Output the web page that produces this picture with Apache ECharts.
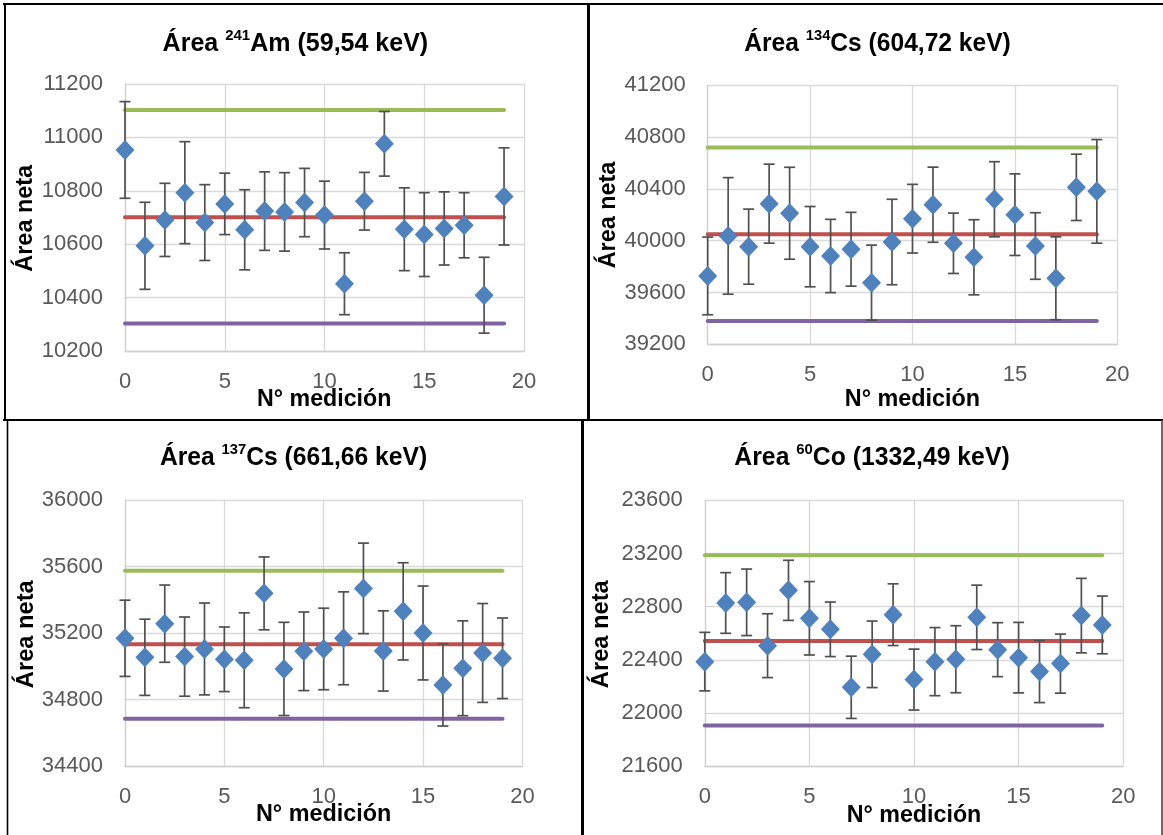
<!DOCTYPE html>
<html><head><meta charset="utf-8">
<script src="https://cdn.jsdelivr.net/npm/echarts@6/dist/echarts.min.js"></script>
<style>html,body{margin:0;padding:0;background:#fff}#c{width:1163px;height:835px}</style>
</head><body><div id="c"></div>
<script>
// ---- data ----
const medicion = [0,1,2,3,4,5,6,7,8,9,10,11,12,13,14,15,16,17,18,19];
const xTicks = [0,5,10,15,20];

const am241 = [10953,10594,10691,10793,10681,10751,10654,10724,10721,10756,10709,10452,10761,10976,10656,10636,10659,10671,10409,10779];
const am241Err = [181,163,137,191,142,115,150,147,147,128,127,116,108,121,155,157,137,122,142,182];
const am241Ref = [11103,10701,10303]; // upper, mean, lower
const am241Ticks = [10200,10400,10600,10800,11000,11200];

const cs134 = [39728,40037,39954,40286,40212,39954,39882,39934,39676,39990,40170,40278,39980,39872,40320,40201,39959,39710,40412,40381];
const cs134Err = [300,450,290,305,355,310,283,285,290,330,265,290,233,290,290,315,257,320,256,400];
const cs134Ref = [40719,40049,39380];
const cs134Ticks = [39200,39600,40000,40400,40800,41200];

const cs137 = [35169,35055,35257,35059,35105,35043,35037,35439,34985,35091,35105,35169,35469,35093,35331,35201,34889,34989,35081,35049];
const cs137Err = [229,229,232,238,276,194,285,219,280,236,245,279,272,241,292,282,247,285,297,242];
const cs137Ref = [35575,35133,34686];
const cs137Ticks = [34400,34800,35200,35600,36000];

const co60 = [22387,22828,22833,22507,22923,22713,22630,22194,22442,22740,22252,22387,22405,22720,22477,22417,22312,22372,22733,22663];
const co60Err = [220,228,250,240,226,276,205,234,250,232,229,256,252,242,203,265,233,222,280,217];
const co60Ref = [23187,22542,21906];
const co60Ticks = [21600,22000,22400,22800,23200,23600];

const titles = [
  ['Área ','241','Am (59,54 keV)'],
  ['Área ','134','Cs (604,72 keV)'],
  ['Área ','137','Cs (661,66 keV)'],
  ['Área ','60','Co (1332,49 keV)']
];
const yName = 'Área neta';
const xName = 'N° medición';

// ---- layout ----
const F = "'Liberation Sans',Arial,sans-serif";
const panels = [
  {vals:am241, errs:am241Err, refs:am241Ref, ticks:am241Ticks,
   grid:{left:125, top:84, width:399, height:267},
   tp:[295.4,43.7,265.6], yn:[26,218.3,106.7], xn:[324.2,399.5,134.3]},
  {vals:cs134, errs:cs134Err, refs:cs134Ref, ticks:cs134Ticks,
   grid:{left:707.7, top:85.3, width:409.6, height:259},
   tp:[877.5,43.7,266.6], yn:[609,215,106.7], xn:[912.5,399.5,135.3]},
  {vals:cs137, errs:cs137Err, refs:cs137Ref, ticks:cs137Ticks,
   grid:{left:125, top:500, width:397.4, height:266.3},
   tp:[293.5,457.8,267.2], yn:[26.3,634.2,108], xn:[323.6,814.7,135.4]},
  {vals:co60, errs:co60Err, refs:co60Ref, ticks:co60Ticks,
   grid:{left:704.8, top:500.3, width:418.4, height:266},
   tp:[872,457.8,275.3], yn:[601.6,634.2,108], xn:[914,815.8,134.6]}
];
const refColors = ['#9BBB59','#C0504D','#8064A2'];

const mctx = document.createElement('canvas').getContext('2d');
function tw(txt, size){ mctx.font = 'bold ' + size + 'px ' + F; return mctx.measureText(txt).width; }

function renderErr(params, api){
  const x = api.value(0), v = api.value(1), e = api.value(2);
  const hi = api.coord([x, v+e]), lo = api.coord([x, v-e]);
  const w = 5.5;
  const st = {stroke:'#505050', lineWidth:1.7};
  return {type:'group', children:[
    {type:'line', shape:{x1:hi[0],y1:hi[1],x2:lo[0],y2:lo[1]}, style:st},
    {type:'line', shape:{x1:hi[0]-w,y1:hi[1],x2:hi[0]+w,y2:hi[1]}, style:st},
    {type:'line', shape:{x1:lo[0]-w,y1:lo[1],x2:lo[0]+w,y2:lo[1]}, style:st}
  ]};
}

const TS = 25, SS = 15, NS = 23.5;
const grids=[], xAxes=[], yAxes=[], series=[], graphic=[];
panels.forEach((p,i)=>{
  grids.push(p.grid);
  const gridLine = {show:true, lineStyle:{color:'#D9D9D9', width:1.3}};
  const lab = {color:'#595959', fontFamily:F, fontSize:22, formatter:v=>String(v)};
  xAxes.push({type:'value', gridIndex:i, min:xTicks[0], max:xTicks[xTicks.length-1], interval:xTicks[1]-xTicks[0],
    axisLine:{show:true, onZero:false, lineStyle:{color:'#D0D0D0', width:1.3}}, axisTick:{show:false},
    splitLine:gridLine, axisLabel:Object.assign({margin:20}, lab)});
  yAxes.push({type:'value', gridIndex:i, min:p.ticks[0], max:p.ticks[p.ticks.length-1], interval:p.ticks[1]-p.ticks[0],
    axisLine:{show:true, lineStyle:{color:'#D0D0D0', width:1.3}}, axisTick:{show:false},
    splitLine:gridLine, axisLabel:Object.assign({margin:22}, lab)});
  p.refs.forEach((r,k)=>{
    series.push({type:'line', xAxisIndex:i, yAxisIndex:i, z:2, showSymbol:false, silent:true,
      data:[[medicion[0], r],[medicion[medicion.length-1], r]],
      lineStyle:{color:refColors[k], width:4, cap:'round'}});
  });
  series.push({type:'custom', xAxisIndex:i, yAxisIndex:i, z:3, renderItem:renderErr, clip:false,
    encode:{x:0,y:1}, data:medicion.map((m,j)=>[m, p.vals[j], p.errs[j]])});
  series.push({type:'scatter', xAxisIndex:i, yAxisIndex:i, z:4, symbol:'diamond', symbolSize:[19,20],
    itemStyle:{color:'#4F81BD', opacity:1}, data:medicion.map((m,j)=>[m, p.vals[j]])});
  const t = titles[i];
  const natW = tw(t[0],TS) + tw(t[1],SS) + tw(t[2],TS);
  graphic.push({type:'text', x:p.tp[0], y:p.tp[1], scaleX:p.tp[2]/natW, style:{
    text:'{a|'+t[0]+'}{s|'+t[1]+'}{a|'+t[2]+'}', align:'center', verticalAlign:'middle',
    rich:{a:{fontFamily:F, fontWeight:'bold', fontSize:TS, fill:'#000', lineHeight:30},
          s:{fontFamily:F, fontWeight:'bold', fontSize:SS, fill:'#000', lineHeight:23, verticalAlign:'top'}}}});
  graphic.push({type:'text', x:p.yn[0], y:p.yn[1], rotation:Math.PI/2, scaleX:p.yn[2]/tw(yName,NS), style:{
    text:yName, align:'center', verticalAlign:'middle', fontFamily:F, fontWeight:'bold', fontSize:NS, fill:'#000'}});
  graphic.push({type:'text', x:p.xn[0], y:p.xn[1], scaleX:p.xn[2]/tw(xName,NS), style:{
    text:xName, align:'center', verticalAlign:'middle', fontFamily:F, fontWeight:'bold', fontSize:NS, fill:'#000'}});
});
// panel borders
const bl = (x1,y1,x2,y2,w,c)=>({type:'line', shape:{x1,y1,x2,y2}, style:{stroke:c||'#000', lineWidth:w}});
graphic.push(bl(3,4,1163,4,2));
graphic.push(bl(5,3,5,420,2));
graphic.push(bl(588.5,3,588.5,420,3));
graphic.push(bl(3,420,1163,420,2));
graphic.push(bl(7.5,420,7.5,835,1.6));
graphic.push(bl(582.5,420,582.5,835,3));
graphic.push(bl(1162,420,1162,835,1.6,'#444'));

const chart = echarts.init(document.getElementById('c'));
chart.setOption({animation:false, backgroundColor:'#fff', grid:grids, xAxis:xAxes, yAxis:yAxes, series, graphic});
</script></body></html>
